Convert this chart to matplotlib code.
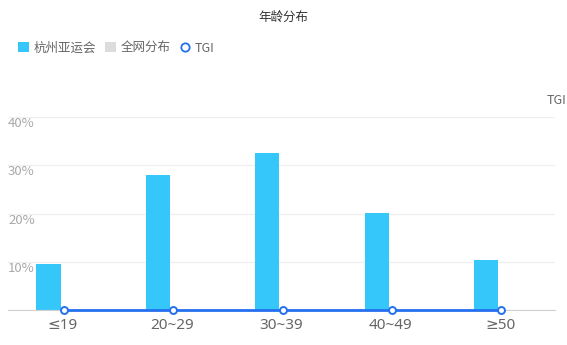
import matplotlib
matplotlib.use("Agg")
import matplotlib.pyplot as plt
import numpy as np
from matplotlib.patches import Patch
from matplotlib.lines import Line2D

plt.rcParams['font.family'] = ['Noto Sans CJK SC', 'DejaVu Sans']

categories = ['≤19', '20~29', '30~39', '40~49', '≥50']
hangzhou = [0.095, 0.28, 0.325, 0.201, 0.104]
quanwang = [0, 0, 0, 0, 0]
tgi = [0, 0, 0, 0, 0]
yticks = [0.0, 0.1, 0.2, 0.3, 0.4]
ytick_labels = ['', '10%', '20%', '30%', '40%']

W, H = 567, 345
fig = plt.figure(figsize=(W / 100, H / 100), dpi=100)
left, right, top, bottom = 8, 555, 117, 310
ax = fig.add_axes([left / W, 1 - bottom / H, (right - left) / W, (bottom - top) / H])

x = np.arange(len(categories))
bw = 0.22
bar_color = '#36c7fa'
ax.bar(x - bw / 2 - 0.02, hangzhou, width=bw, color=bar_color, zorder=2)
ax.bar(x + bw / 2 + 0.02, quanwang, width=bw, color='#dcdcdc', zorder=2)

ax.set_xlim(-0.5, len(categories) - 0.5)
ax.set_ylim(0, 0.4)
ax.set_yticks(yticks)
ax.yaxis.grid(True, color='#f0f0f0', linewidth=1, zorder=0)
ax.set_yticklabels([])
ax.tick_params(axis='y', length=0)
for v, lab in zip(yticks, ytick_labels):
    ax.text(0.0, v, lab, transform=ax.get_yaxis_transform(), ha='left', va='top',
            fontsize=9.5, color='#a8a8a8')
ax.set_xticks(x)
ax.set_xticklabels(categories, fontsize=11, color='#666666',
                   family=['Noto Sans', 'DejaVu Sans'])
ax.tick_params(axis='x', length=0, pad=6)
for s in ['top', 'right', 'left']:
    ax.spines[s].set_visible(False)
ax.spines['bottom'].set_color('#d0d0d0')

ax2 = ax.twinx()
ax2.set_ylim(0, 1)
line_color = '#2470f0'
ax2.plot(x + 0.01, tgi, color=line_color, linewidth=2, marker='o', markersize=5,
         markerfacecolor='white', markeredgecolor=line_color, markeredgewidth=1.4,
         zorder=5, clip_on=False)
ax2.set_yticks([])
for s in ['top', 'right', 'left', 'bottom']:
    ax2.spines[s].set_visible(False)
fig.text(566 / W, 1 - 101 / H, 'TGI', ha='right', va='center', fontsize=9, color='#666666')

fig.text(0.5, 1 - 17 / H, '年龄分布', ha='center', va='center', fontsize=9, color='#333333')

handles = [Patch(facecolor=bar_color, edgecolor='none'),
           Patch(facecolor='#dcdcdc', edgecolor='none'),
           Line2D([], [], color='none', marker='o', markersize=6, markerfacecolor='white',
                  markeredgecolor=line_color, markeredgewidth=1.3)]
fig.legend(handles, ['杭州亚运会', '全网分布', 'TGI'], loc='center left',
           bbox_to_anchor=(7 / W, 1 - 48 / H), ncol=3, frameon=False, fontsize=9,
           labelcolor='#666666', handlelength=0.85, handleheight=0.85, handletextpad=0.4,
           columnspacing=0.7)

fig.savefig('out.png', dpi=100)
